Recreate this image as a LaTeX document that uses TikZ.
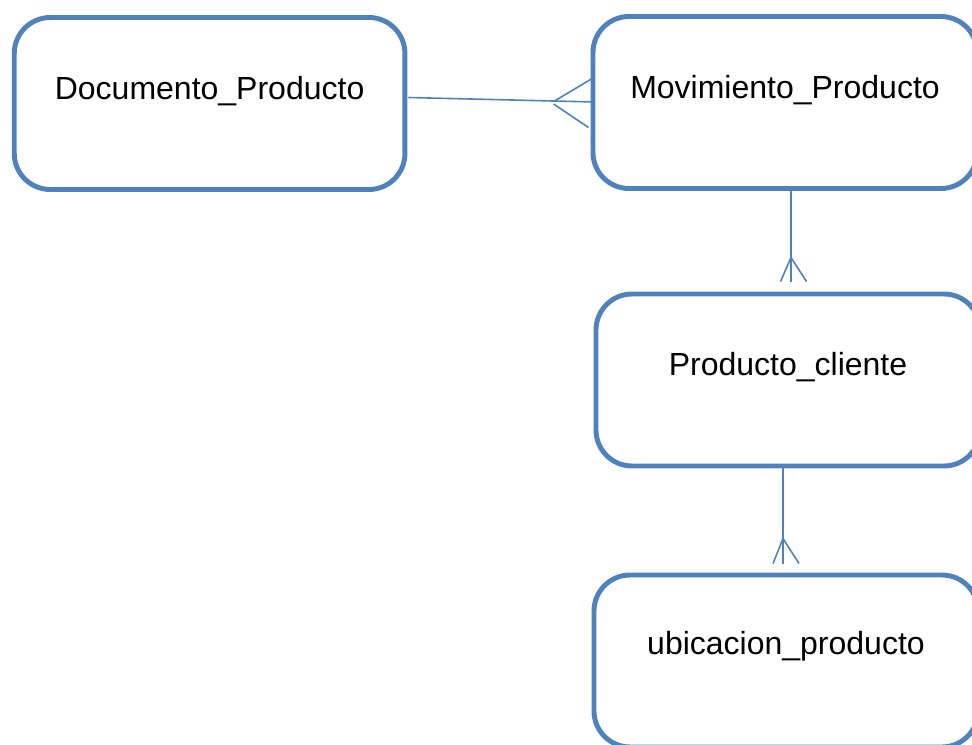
\documentclass[tikz,border=0pt]{standalone}
\usepackage{fontspec}
\setmainfont{Liberation Sans}
\usetikzlibrary{calc}

\definecolor{boxblue}{HTML}{4F81BD}
\tikzset{
  entity/.style={draw=boxblue, line width=3.7pt, rounded corners=27pt,
    minimum width=288pt, minimum height=129pt, inner sep=0pt},
  etext/.style={font=\fontsize{24pt}{28pt}\selectfont, inner sep=0pt, anchor=base},
  rel/.style={draw=boxblue, line width=1.2pt}
}

\begin{document}
\begin{tikzpicture}[x=0.75pt,y=-0.75pt]
  \useasboundingbox (0,0) rectangle (972,745);
  \clip (0,0) rectangle (972,745);

% entities
  \node[entity, minimum width=293pt] (doc) at (209.6,103.5) {};
  \node[entity] (movi) at (785,102.5) {};
  \node[entity] (prod) at (788,380) {};
  \node[entity] (ubic) at (786,661) {};

  \node[etext] (doct) at ($(doc.north)+(0,84)$) {Documento\_Producto};
  \node[etext] (movit) at ($(movi.north)+(0,84)$) {Movimiento\_Producto};
  \node[etext] (prodt) at ($(prod.north)+(0,84)$) {Producto\_cliente};
  \node[etext] (ubict) at ($(ubic.north)+(0,82)$) {ubicacion\_producto};

% doc -- movi, many end at movi
  \coordinate (r1a) at ($(doc.east)+(1,-6)$);
  \coordinate (r1b) at ($(movi.west)+(4,-0.5)$);
  \coordinate (r1v) at ($(movi.west)+(-36,-1.5)$);
  \draw[rel] (r1a) -- (r1b);
  \draw[rel] (r1v) -- ($(movi.west)+(0,-23)$) -- ++(3,-1.5);
  \draw[rel] ($(r1v)+(-1,3)$) -- ($(movi.west)+(-2,25)$);

% movi -- prod, many end at prod
  \coordinate (r2a) at (791,0 |- movi.south);
  \coordinate (r2b) at ($(r2a |- prod.north)+(0,-10)$);
  \coordinate (r2v) at ($(r2b)+(0,-24)$);
  \draw[rel] (r2a) -- (r2b);
  \draw[rel] ($(r2b)+(-10.5,0)$) -- (r2v) -- ($(r2b)+(15.5,0)$);

% prod -- ubic, many end at ubic
  \coordinate (r3a) at (783,0 |- prod.south);
  \coordinate (r3b) at ($(r3a |- ubic.north)+(0,-9)$);
  \coordinate (r3v) at ($(r3b)+(0,-25)$);
  \draw[rel] (r3a) -- (r3b);
  \draw[rel] ($(r3b)+(-10,0)$) -- (r3v) -- ($(r3b)+(16,0)$);
\end{tikzpicture}
\end{document}
